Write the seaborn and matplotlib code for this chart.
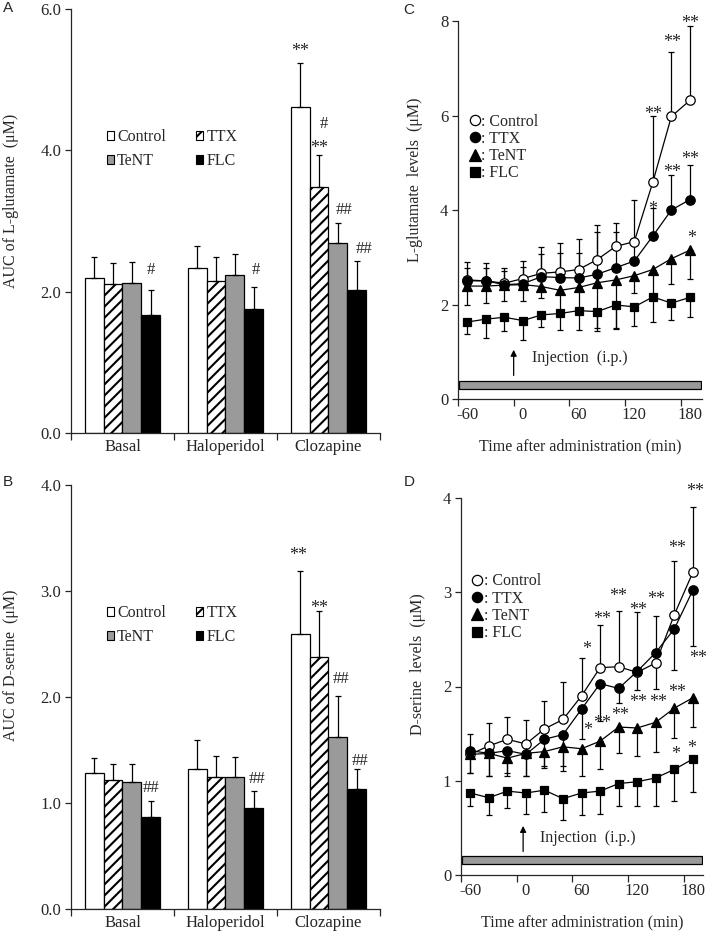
import numpy as np
import pandas as pd
import matplotlib.pyplot as plt
import seaborn as sns
from matplotlib.lines import Line2D
from matplotlib.patches import Patch, Rectangle
from matplotlib.ticker import FormatStrFormatter

# ---- data ----
groups = ['Control', 'TTX', 'TeNT', 'FLC']
conditions = ['Basal', 'Haloperidol', 'Clozapine']

# A: AUC of L-glutamate (mean, upper error)
glu_auc_control = [2.19, 2.33, 4.62]
glu_auc_ttx = [2.11, 2.15, 3.48]
glu_auc_tent = [2.12, 2.23, 2.69]
glu_auc_flc = [1.67, 1.75, 2.02]
glu_auc_err_control = [0.30, 0.31, 0.62]
glu_auc_err_ttx = [0.29, 0.34, 0.45]
glu_auc_err_tent = [0.30, 0.31, 0.28]
glu_auc_err_flc = [0.35, 0.31, 0.41]

# B: AUC of D-serine
ser_auc_control = [1.28, 1.32, 2.59]
ser_auc_ttx = [1.22, 1.25, 2.38]
ser_auc_tent = [1.20, 1.25, 1.62]
ser_auc_flc = [0.87, 0.95, 1.13]
ser_auc_err_control = [0.14, 0.27, 0.60]
ser_auc_err_ttx = [0.15, 0.19, 0.43]
ser_auc_err_tent = [0.17, 0.18, 0.39]
ser_auc_err_flc = [0.15, 0.16, 0.19]

# significance marks on bars: (condition, group, y, text, x nudge)
glu_auc_marks = [(0, 3, 2.33, '#', 0.0), (1, 3, 2.33, '#', 0.025),
                 (2, 0, 5.48, '**', 0.0), (2, 1, 4.40, '#', 0.045),
                 (2, 1, 4.11, '**', 0.0), (2, 2, 3.18, '##', 0.06),
                 (2, 3, 2.63, '##', 0.07)]
ser_auc_marks = [(0, 3, 1.16, '##', 0.0), (1, 3, 1.245, '##', 0.03),
                 (2, 0, 3.39, '**', -0.02), (2, 1, 2.89, '**', 0.0),
                 (2, 2, 2.19, '##', 0.03), (2, 3, 1.42, '##', 0.03)]

# C/D: time courses
time_min = [-60, -40, -20, 0, 20, 40, 60, 80, 100, 120, 140, 160, 180]

glu_control = [2.52, 2.50, 2.45, 2.55, 2.66, 2.69, 2.74, 2.95, 3.23, 3.33, 4.59, 5.98, 6.32]
glu_ttx = [2.50, 2.50, 2.42, 2.44, 2.59, 2.57, 2.56, 2.64, 2.78, 2.92, 3.45, 4.00, 4.22]
glu_tent = [2.39, 2.39, 2.41, 2.42, 2.38, 2.30, 2.36, 2.46, 2.52, 2.61, 2.74, 2.97, 3.15]
glu_flc = [1.63, 1.69, 1.73, 1.66, 1.78, 1.81, 1.87, 1.85, 1.99, 1.95, 2.16, 2.03, 2.15]
glu_err_control = [0.38, 0.37, 0.33, 0.37, 0.55, 0.62, 0.64, 0.74, 0.50, 0.88, 1.39, 1.36, 1.58]
glu_err_ttx = [0.28, 0.28, 0.28, 0.36, 0.48, 0.53, 0.54, 0.90, 0.76, 0.38, 0.60, 0.75, 0.73]
glu_err_tent = [0.40, 0.35, 0.34, 0.34, 0.25, 0.43, 0.51, 0.96, 1.02, 0.36, 0.54, 0.54, 0.62]
glu_err_flc = [0.26, 0.39, 0.30, 0.41, 0.26, 0.34, 0.40, 0.41, 0.51, 0.41, 0.54, 0.36, 0.41]
glu_err_up = [True, True, False, False]

ser_control = [1.28, 1.37, 1.44, 1.39, 1.55, 1.65, 1.90, 2.20, 2.21, 2.15, 2.25, 2.76, 3.21]
ser_ttx = [1.32, 1.29, 1.32, 1.28, 1.44, 1.49, 1.76, 2.03, 1.98, 2.16, 2.36, 2.61, 3.02]
ser_tent = [1.28, 1.29, 1.24, 1.29, 1.31, 1.36, 1.34, 1.42, 1.57, 1.56, 1.62, 1.77, 1.88]
ser_flc = [0.87, 0.82, 0.89, 0.87, 0.90, 0.81, 0.87, 0.89, 0.97, 0.99, 1.03, 1.12, 1.23]
ser_err_control = [0.22, 0.24, 0.24, 0.25, 0.30, 0.40, 0.40, 0.45, 0.59, 0.64, 0.50, 0.57, 0.69]
ser_err_ttx = [0.24, 0.24, 0.24, 0.23, 0.31, 0.33, 0.32, 0.40, 0.16, 0.20, 0.39, 0.43, 0.59]
ser_err_tent = [0.20, 0.24, 0.19, 0.24, 0.15, 0.26, 0.29, 0.30, 0.28, 0.30, 0.31, 0.32, 0.31]
ser_err_flc = [0.14, 0.18, 0.18, 0.22, 0.23, 0.23, 0.23, 0.24, 0.24, 0.26, 0.30, 0.34, 0.35]
ser_err_up = [True, False, False, False]

glu_marks = [(140, 6.15, '**'), (160.5, 7.67, '**'), (180.7, 8.07, '**'),
             (160.5, 4.93, '**'), (180.7, 5.20, '**'), (140, 4.14, '*'),
             (182, 3.53, '*')]
ser_marks = [(66, 2.46, '*'), (82, 2.78, '**'), (100, 3.02, '**'), (121, 2.87, '**'),
             (140, 2.99, '**'), (163, 3.53, '**'), (183, 4.13, '**'), (186, 2.36, '**'),
             (163, 2.00, '**'), (121, 1.90, '**'), (143, 1.90, '**'), (102, 1.76, '**'),
             (82, 1.67, '**'), (67, 1.60, '*'), (161, 1.35, '*'), (179, 1.41, '*')]

# ---- style ----
sns.set_style('ticks')
plt.rcParams['font.family'] = ['Liberation Serif', 'DejaVu Serif']
plt.rcParams['hatch.linewidth'] = 1.5
plt.rcParams['axes.linewidth'] = 0.9
plt.rcParams['xtick.major.width'] = 0.9
plt.rcParams['ytick.major.width'] = 0.9

bar_colors = {'Control': 'white', 'TTX': 'white', 'TeNT': '#9a9a9a', 'FLC': 'black'}
markers = {'Control': 'o', 'TTX': 'o', 'TeNT': '^', 'FLC': 's'}
msizes = {'Control': 6.8, 'TTX': 6.8, 'TeNT': 7.5, 'FLC': 6.4}
faces = {'Control': 'white', 'TTX': 'black', 'TeNT': 'black', 'FLC': 'black'}

TICK = 12
LABEL = 11.5


def mark_text(ax, x, y, s):
    dy = -4.5 if '*' in s else -1.5
    size = 13 if '*' in s else 12
    ax.annotate(s, (x, y), xytext=(0, dy), textcoords='offset points',
                ha='center', va='center', fontsize=size, annotation_clip=False)


def bar_panel(ax, means, errs, ymax, step, ylabel, ylab_y, marks):
    df = pd.DataFrame({'condition': conditions * 4,
                       'group': np.repeat(groups, 3),
                       'value': np.concatenate(means)})
    sns.barplot(data=df, x='condition', y='value', hue='group', order=conditions,
                hue_order=groups, palette=bar_colors, width=0.73, saturation=1,
                errorbar=None, edgecolor='black', linewidth=0.9, legend=False, ax=ax)
    bar_sets = list(ax.containers)
    for i, cont in enumerate(bar_sets):
        xs = [b.get_x() + b.get_width() / 2 for b in cont]
        hs = [b.get_height() for b in cont]
        if groups[i] == 'TTX':
            for b in cont:
                b.set_hatch('///')
        ax.errorbar(xs, hs, yerr=[np.zeros(3), errs[i]], fmt='none', ecolor='black',
                    elinewidth=0.9, capsize=2.5, capthick=0.9, zorder=3)
    for c, g, y, s, dx in marks:
        mark_text(ax, c + (g - 1.5) * 0.1825 + dx, y, s)

    ax.set_xlim(-0.5, 2.5)
    ax.set_ylim(0, ymax)
    ax.set_yticks(np.arange(0, ymax + 0.01, step))
    ax.yaxis.set_major_formatter(FormatStrFormatter('%.1f'))
    ax.set_xticks([-0.5, 0.5, 1.5, 2.5], ['', '', '', ''])
    ax.set_xticks([0, 1, 2], conditions, minor=True)
    ax.tick_params(axis='x', which='major', length=5, direction='out')
    ax.tick_params(axis='x', which='minor', length=0, pad=4, labelsize=TICK)
    ax.tick_params(axis='y', length=4, direction='out', labelsize=TICK, pad=3)
    ax.set_xlabel('')
    ax.set_ylabel(ylabel, fontsize=LABEL)
    ax.yaxis.set_label_coords(-0.168, ylab_y)
    sns.despine(ax=ax)

    handles = [Patch(facecolor=bar_colors[g], edgecolor='black', linewidth=0.8,
                     hatch='///' if g == 'TTX' else None) for g in groups]
    order = [0, 2, 1, 3]
    ax.legend([handles[k] for k in order], [groups[k] for k in order], ncol=2,
              loc='upper left', bbox_to_anchor=(0.115, 0.717), frameon=False,
              fontsize=11.5, handlelength=0.45, handleheight=0.45, handletextpad=0.2,
              columnspacing=1.9, labelspacing=0.5, borderpad=0, borderaxespad=0)


def line_panel(ax, series, errs, err_up, ymax, ylabel, ylab_y, xmax, marks,
               gray_y, arrow_x, arrow_y, inj_xy, leg_xy):
    for i, g in enumerate(groups):
        vals = np.array(series[i])
        e = np.array(errs[i])
        zero = np.zeros_like(e)
        yerr = [zero, e] if err_up[i] else [e, zero]
        ax.errorbar(time_min, vals, yerr=yerr, fmt='none', ecolor='black',
                    elinewidth=0.9, capsize=2.2, capthick=0.9, zorder=2)
        sns.lineplot(x=time_min, y=vals, ax=ax, color='black', lw=0.9,
                     marker=markers[g], markersize=msizes[g], markerfacecolor=faces[g],
                     markeredgecolor='black', markeredgewidth=0.9, zorder=3 + i)
    for x, y, s in marks:
        mark_text(ax, x, y, s)

    ax.add_patch(Rectangle((-69, gray_y[0]), xmax + 67.5, gray_y[1] - gray_y[0],
                           facecolor='#9a9a9a', edgecolor='black', lw=0.9, zorder=1))
    ax.annotate('', xy=(arrow_x, arrow_y[1]), xytext=(arrow_x, arrow_y[0]),
                arrowprops=dict(arrowstyle='-|>', color='black', lw=0.9, mutation_scale=9))
    ax.text(inj_xy[0], inj_xy[1], 'Injection  (i.p.)', ha='left', va='center', fontsize=LABEL)

    ax.set_xlim(-70, xmax)
    ax.set_ylim(0, ymax)
    ax.set_yticks(range(0, ymax + 1, 2 if ymax > 4 else 1))
    ax.set_xticks([-70, -10, 50, 110, 170], ['', '', '', '', ''])
    ax.set_xticks([-60, 0, 60, 120, 180], ['-60', '0', '60', '120', '180'], minor=True)
    ax.tick_params(axis='x', which='major', length=5, direction='out')
    ax.tick_params(axis='x', which='minor', length=0, pad=6, labelsize=TICK)
    ax.tick_params(axis='y', length=4, direction='out', labelsize=TICK, pad=3)
    ax.set_xlabel('Time after administration (min)', fontsize=LABEL)
    ax.xaxis.set_label_coords(0.5, -0.105)
    ax.set_ylabel(ylabel, fontsize=LABEL)
    ax.yaxis.set_label_coords(-0.143, ylab_y)
    sns.despine(ax=ax)

    handles = [Line2D([], [], ls='none', marker=markers[g], markersize=msizes[g] + 0.6,
                      markerfacecolor=faces[g], markeredgecolor='black', markeredgewidth=0.9)
               for g in groups]
    ax.legend(handles, [': ' + g for g in groups], loc='upper left', bbox_to_anchor=leg_xy,
              frameon=False, fontsize=11.5, handlelength=0.7, handletextpad=0.05,
              labelspacing=0.08, borderpad=0, borderaxespad=0)


fig = plt.figure(figsize=(7.09, 9.39), dpi=100)
W, H = 709, 939


def axes_px(left, top, right, bottom):
    return fig.add_axes([left / W, 1 - bottom / H, (right - left) / W, (bottom - top) / H])


ax_a = axes_px(71, 9, 380, 433)
ax_b = axes_px(71, 485, 380, 909)
ax_c = axes_px(458, 21, 702, 399)
ax_d = axes_px(461, 498, 703, 875)

bar_panel(ax_a,
          [glu_auc_control, glu_auc_ttx, glu_auc_tent, glu_auc_flc],
          [glu_auc_err_control, glu_auc_err_ttx, glu_auc_err_tent, glu_auc_err_flc],
          6.0, 2.0, 'AUC of L-glutamate  (\u03bcM)', 0.547, glu_auc_marks)
bar_panel(ax_b,
          [ser_auc_control, ser_auc_ttx, ser_auc_tent, ser_auc_flc],
          [ser_auc_err_control, ser_auc_err_ttx, ser_auc_err_tent, ser_auc_err_flc],
          4.0, 1.0, 'AUC of D-serine  (\u03bcM)', 0.575, ser_auc_marks)
line_panel(ax_c, [glu_control, glu_ttx, glu_tent, glu_flc],
           [glu_err_control, glu_err_ttx, glu_err_tent, glu_err_flc], glu_err_up,
           8, 'L-glutamate  levels  (\u03bcM)', 0.58, 193, glu_marks,
           (0.21, 0.38), -10, (0.44, 1.10), (9.7, 0.87), (0.045, 0.755))
line_panel(ax_d, [ser_control, ser_ttx, ser_tent, ser_flc],
           [ser_err_control, ser_err_ttx, ser_err_tent, ser_err_flc], ser_err_up,
           4, 'D-serine  levels  (\u03bcM)', 0.56, 191, ser_marks,
           (0.12, 0.20), -3, (0.22, 0.55), (15.4, 0.39), (0.045, 0.80))

for x, y, s in [(3, 8, 'A'), (3, 482, 'B'), (403, 10, 'C'), (404, 482, 'D')]:
    fig.text(x / W, 1 - y / H, s, ha='left', va='center', fontsize=11,
             family=['Liberation Sans', 'DejaVu Sans'])

fig.savefig('out.png', dpi=100)
